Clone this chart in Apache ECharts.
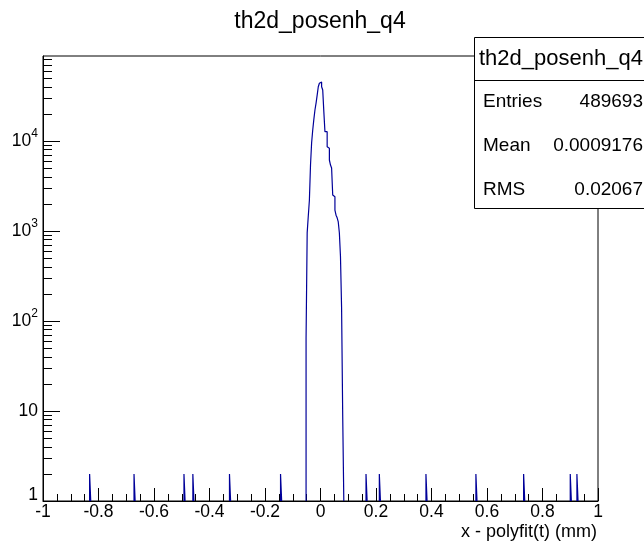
<!DOCTYPE html>
<html>
<head>
<meta charset="utf-8">
<script src="https://cdn.jsdelivr.net/npm/echarts@6/dist/echarts.min.js"></script>
<style>
html,body{margin:0;padding:0;background:#fff;}
#chart{width:644px;height:544px;}
</style>
</head>
<body>
<div id="chart"></div>
<script>
// ---- data ----
const histTitle = 'th2d_posenh_q4';
const xAxisTitle = 'x - polyfit(t) (mm)';
const binWidth = 0.004;
// main peak: consecutive bins starting at peakStart
const peakStart = -0.052;
const peakCounts = [65, 960, 1470, 2210, 5410, 9560, 13250, 17400, 22100, 26400,
  32400, 40100, 43800, 45300, 40100, 36900, 21200, 12700, 12700, 8650,
  8330, 6150, 5410, 5010, 2510, 2400, 1710, 1500, 1400, 1260,
  950, 518, 139, 9];
// isolated bins (lower edges) and their contents
const spikeX = [-0.832, -0.672, -0.492, -0.46, -0.328, -0.144, 0.164, 0.212, 0.38, 0.56, 0.732, 0.9, 0.924];
const spikeCounts = [2, 2, 2, 2, 2, 2, 2, 2, 2, 2, 2, 2, 2];
// axis ticks
const xTicks = [-1, -0.8, -0.6, -0.4, -0.2, 0, 0.2, 0.4, 0.6, 0.8, 1];
const yMajor = [1, 10, 100, 1000, 10000];
const yMinorFactors = [2, 3, 4, 5, 6, 7, 8, 9];
const yMin = 1, yMax = 88000;
// stats box
const statLabels = ['Entries', 'Mean', 'RMS'];
const statValues = ['489693', '0.0009176', '0.02067'];

// ---- build outline ----
const outline = [];
function addCluster(lo, counts) {
  outline.push([lo, yMin]);
  counts.forEach((v, i) => {
    const a = lo + i * binWidth, b = a + binWidth;
    outline.push([a, v]);
    outline.push([b, v]);
  });
  outline.push([lo + counts.length * binWidth, yMin]);
  outline.push([lo + counts.length * binWidth, '-']);
}
spikeX.forEach((x, i) => { if (x < peakStart) addCluster(x, [spikeCounts[i]]); });
addCluster(peakStart, peakCounts);
spikeX.forEach((x, i) => { if (x >= peakStart) addCluster(x, [spikeCounts[i]]); });

const yMinor = [];
yMajor.forEach(d => yMinorFactors.forEach(f => { if (d * f < yMax) yMinor.push(d * f); }));

const FONT = 'Liberation Sans, Arial, Helvetica, sans-serif';

const chart = echarts.init(document.getElementById('chart'), null, {renderer: 'canvas'});
chart.setOption({
  animation: false,
  backgroundColor: '#fff',
  grid: {left: 43, right: 46, top: 56, bottom: 43, show: true, borderColor: '#000', borderWidth: 1},
  xAxis: [{
    type: 'value', min: -1, max: 1, interval: 0.2,
    axisLine: {show: true, onZero: false, lineStyle: {color: '#000', width: 1}},
    axisTick: {show: true, inside: true, length: 13, lineStyle: {color: '#000'}},
    minorTick: {show: true, splitNumber: 4, length: 7, lineStyle: {color: '#000'}},
    splitLine: {show: false},
    axisLabel: {
      margin: 2, fontSize: 17.5, color: '#000', fontFamily: FONT,
      customValues: xTicks,
      showMinLabel: true, showMaxLabel: true,
      formatter: v => String(Math.round(v * 10) / 10)
    }
  }],
  yAxis: [{
    type: 'log', logBase: 10, min: yMin, max: yMax, position: 'left',
    axisLine: {show: true, onZero: false, lineStyle: {color: '#000', width: 1}},
    axisTick: {show: true, inside: true, length: 17, customValues: yMajor, lineStyle: {color: '#000'}},
    splitLine: {show: false},
    axisLabel: {
      margin: 5, color: '#000', fontFamily: FONT, fontSize: 17.5,
      customValues: yMajor,
      formatter: v => {
        const e = Math.round(Math.log10(v));
        if (e === 0) return '{one|1}';
        if (e === 1) return '{b|10}';
        return '{b|10}{s|' + e + '}';
      },
      rich: {
        one: {fontSize: 17.5, fontFamily: FONT, color: '#000', padding: [0, 0, 12, 0]},
        b: {fontSize: 17.5, fontFamily: FONT, color: '#000'},
        s: {fontSize: 12, fontFamily: FONT, color: '#000', padding: [0, 0, 14, 0]}
      }
    }
  }, {
    type: 'log', logBase: 10, min: yMin, max: yMax, position: 'left',
    axisLine: {show: false, onZero: false},
    axisTick: {show: true, inside: true, length: 9, customValues: yMinor, lineStyle: {color: '#000'}},
    splitLine: {show: false},
    axisLabel: {show: false}
  }],
  series: [{
    type: 'line', xAxisIndex: 0, yAxisIndex: 0,
    data: outline, showSymbol: false, symbol: 'none', connectNulls: false,
    lineStyle: {color: '#000099', width: 1.2}, z: 3
  }],
  graphic: [
    {type: 'text', x: 320, y: 22, z: 100,
     style: {text: histTitle, font: '23px ' + FONT, fill: '#000', textAlign: 'center', textVerticalAlign: 'middle'}},
    {type: 'text', x: 597, y: 532, z: 100,
     style: {text: xAxisTitle, font: '18px ' + FONT, fill: '#000', textAlign: 'right', textVerticalAlign: 'middle'}},
    {type: 'group', z: 100, children: [
      {type: 'rect', shape: {x: 474.5, y: 37.5, width: 200, height: 171}, style: {fill: '#fff', stroke: '#000', lineWidth: 1}, z: 100},
      {type: 'line', shape: {x1: 474.5, y1: 80.5, x2: 644, y2: 80.5}, style: {stroke: '#000', lineWidth: 1}, z: 101},
      {type: 'text', x: 479, y: 59, z: 101, style: {text: histTitle, font: '22px ' + FONT, fill: '#000', textVerticalAlign: 'middle'}},
      ...statLabels.map((t, i) => ({type: 'text', x: 483, y: 102 + i * 44, z: 101,
        style: {text: t, font: '19px ' + FONT, fill: '#000', textVerticalAlign: 'middle'}})),
      ...statValues.map((t, i) => ({type: 'text', x: 643, y: 102 + i * 44, z: 101,
        style: {text: t, font: '19px ' + FONT, fill: '#000', textAlign: 'right', textVerticalAlign: 'middle'}}))
    ]}
  ]
});
</script>
</body>
</html>
